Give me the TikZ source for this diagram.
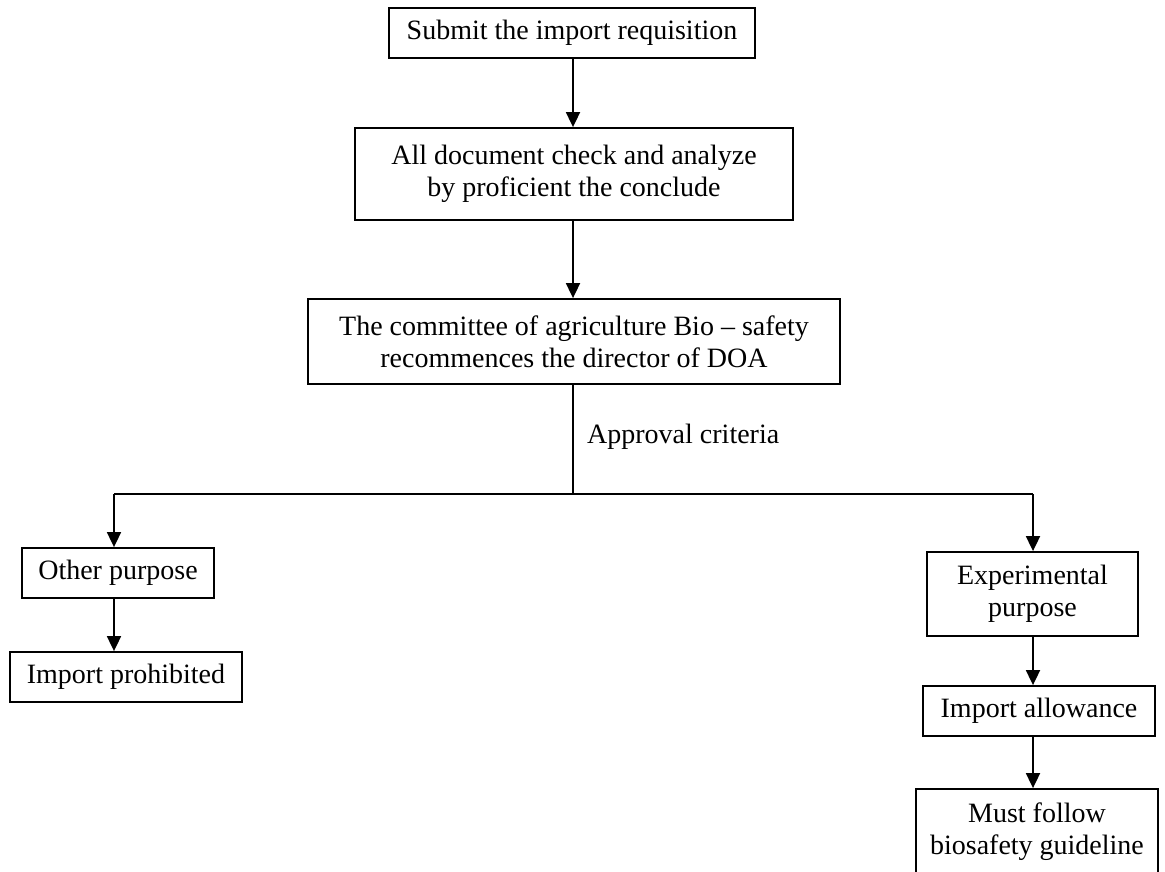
\documentclass[tikz,border=0pt]{standalone}
\usepackage{fontspec}
\setmainfont{Liberation Serif}
\usetikzlibrary{arrows.meta}
\begin{document}
\begin{tikzpicture}[x=1pt,y=-1pt,
  box/.style={draw, line width=1.8pt, inner sep=0pt, align=center,
    font=\fontsize{28}{32}\selectfont},
  arr/.style={line width=1.8pt, -{Triangle[width=14pt,length=15pt]}},
  conn/.style={line width=1.8pt},
  lbl/.style={inner sep=0pt, font=\fontsize{28}{32}\selectfont}]
\useasboundingbox (0,0) rectangle (1165,872);

% main column
\node[box, minimum width=366pt, minimum height=50pt] (submit) at (572,33)
  {Submit the import requisition};
\node[box, minimum width=438pt, minimum height=92pt] (check) at (574,174)
  {All document check and analyze\\by proficient the conclude};
\node[box, minimum width=532pt, minimum height=85pt] (committee) at (574,341.5)
  {The committee of agriculture Bio – safety\\recommences the director of DOA};

% left branch
\node[box, minimum width=192pt, minimum height=50pt] (other) at (118,573)
  {Other purpose};
\node[box, minimum width=232pt, minimum height=50pt] (prohib) at (126,677)
  {Import prohibited};

% right branch
\node[box, minimum width=211pt, minimum height=84pt] (exper) at (1032.5,594)
  {Experimental\\purpose};
\node[box, minimum width=232pt, minimum height=50pt] (allow) at (1039,711)
  {Import allowance};
\node[box, minimum width=242pt, minimum height=86pt] (follow) at (1037,832)
  {Must follow\\biosafety guideline};

% junction points
\coordinate (mc) at (573,0);
\coordinate (split) at (573,494);
\coordinate (lc) at (114,494);
\coordinate (rc) at (1033,494);

% connectors
\draw[arr] (mc |- submit.south) -- (mc |- check.north);
\draw[arr] (mc |- check.south) -- (mc |- committee.north);
\draw[conn] (mc |- committee.south) -- (split);
\draw[conn] (lc) -- (rc);
\draw[arr] (lc) -- (lc |- other.north);
\draw[arr] (rc) -- (rc |- exper.north);
\draw[arr] (lc |- other.south) -- (lc |- prohib.north);
\draw[arr] (rc |- exper.south) -- (rc |- allow.north);
\draw[arr] (rc |- allow.south) -- (rc |- follow.north);

\node[lbl, anchor=west] (crit) at (587,437) {Approval criteria};
\end{tikzpicture}
\end{document}
